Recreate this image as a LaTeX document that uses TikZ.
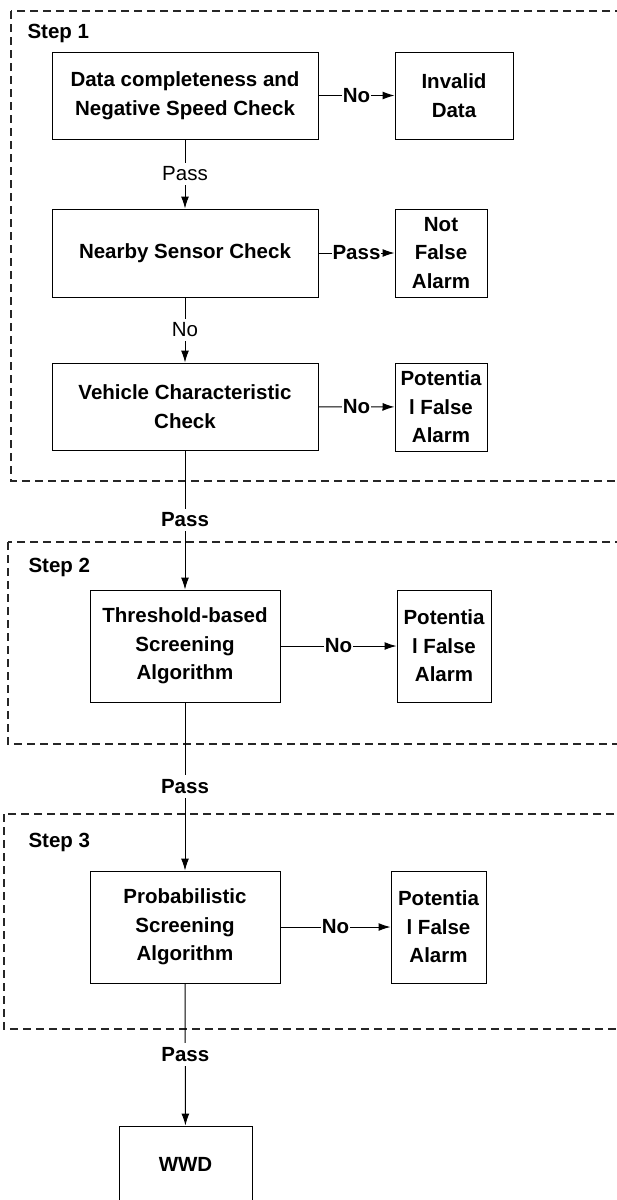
\documentclass[tikz,border=0pt]{standalone}
\usepackage{fontspec}
\setmainfont{Liberation Sans}
\usetikzlibrary{arrows.meta}
\begin{document}
\begin{tikzpicture}[x=1pt,y=-1pt,line width=1pt,
  box/.style={draw,align=center,inner sep=0pt,font=\bfseries\fontsize{20.5}{28.5}\selectfont},
  lbl/.style={fill=white,inner xsep=1pt,inner ysep=4pt,font=\fontsize{20.5}{22}\selectfont},
  blbl/.style={lbl,font=\bfseries\fontsize{20.5}{22}\selectfont},
  steplbl/.style={anchor=west,inner sep=0pt,font=\bfseries\fontsize{20.5}{22}\selectfont},
  frame/.style={draw=black!85,line width=1.1pt,dash pattern=on 8pt off 5pt},
  >={Latex[length=12pt,width=8pt]}]
\clip (0,0) rectangle (617,1200);
% dashed step frames
\draw[frame] (11,11) rectangle (640,481);
\draw[frame] (8,542) rectangle (640,744);
\draw[frame] (4,814) rectangle (640,1029);
\node[steplbl] (s1) at (27,33) {Step 1};
\node[steplbl] (s2) at (28,567) {Step 2};
\node[steplbl] (s3) at (28,842) {Step 3};
% step 1
\node[box,minimum width=266pt,minimum height=87pt] (data) at (185,95.5) {Data completeness and\\Negative Speed Check};
\node[box,minimum width=118pt,minimum height=87pt] (invalid) at (454,95.5) {Invalid\\Data};
\node[box,minimum width=266pt,minimum height=88pt] (nearby) at (185,253) {Nearby Sensor Check};
\node[box,minimum width=92pt,minimum height=88pt] (notfa) at (441,253) {Not\\False\\Alarm};
\node[box,minimum width=266pt,minimum height=87pt] (vehicle) at (185,406.5) {Vehicle Characteristic\\Check};
\node[box,minimum width=92pt,minimum height=88pt] (pfa1) at (441,407) {Potentia\\l False\\Alarm};
% step 2
\node[box,minimum width=190pt,minimum height=112pt] (thresh) at (185,646) {Threshold-based\\Screening\\Algorithm};
\node[box,minimum width=94pt,minimum height=112pt] (pfa2) at (444,646) {Potentia\\l False\\Alarm};
% step 3
\node[box,minimum width=190pt,minimum height=112pt] (prob) at (185,927) {Probabilistic\\Screening\\Algorithm};
\node[box,minimum width=95pt,minimum height=112pt] (pfa3) at (438.5,927) {Potentia\\l False\\Alarm};
\node[box,minimum width=133pt,minimum height=76pt] (wwd) at (185.5,1164) {WWD};
% connectors
\draw[->] (data) -- node[blbl]{No} (invalid);
\draw[->] (data) -- node[lbl]{Pass} (nearby);
\draw[->] (nearby) -- node[blbl]{Pass} (notfa);
\draw[->] (nearby) -- node[lbl]{No} (vehicle);
\draw[->] (vehicle) -- node[blbl]{No} (pfa1);
\draw[->] (vehicle) -- node[blbl]{Pass} (thresh);
\draw[->] (thresh) -- node[blbl]{No} (pfa2);
\draw[->] (thresh) -- node[blbl]{Pass} (prob);
\draw[->] (prob) -- node[blbl]{No} (pfa3);
\draw[->] (prob) -- node[blbl]{Pass} (wwd);
\end{tikzpicture}
\end{document}
